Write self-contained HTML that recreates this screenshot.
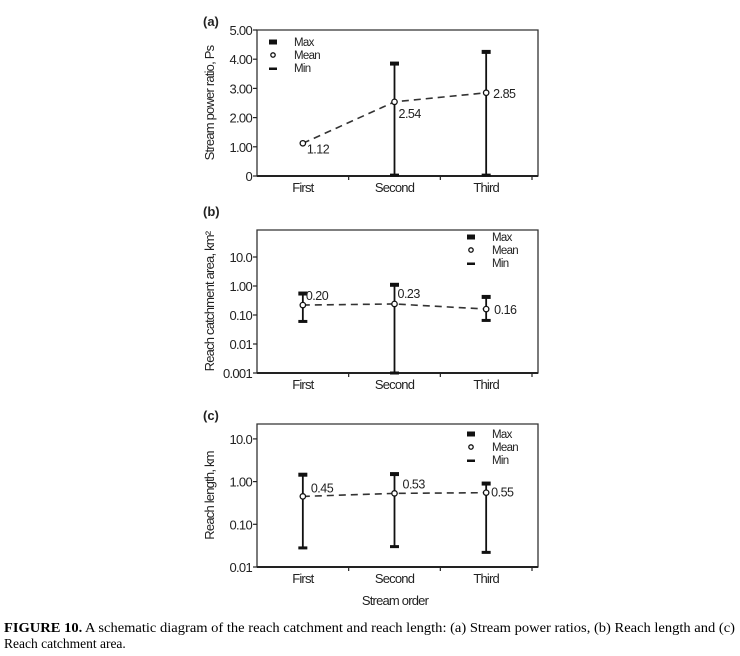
<!DOCTYPE html>
<html><head><meta charset="utf-8"><style>
body{margin:0;background:#fff;width:740px;height:656px;overflow:hidden}
svg{display:block}
text{font-family:"Liberation Sans",sans-serif;fill:#222}
</style></head><body>
<svg id="fig" width="740" height="656" viewBox="0 0 740 656" xmlns="http://www.w3.org/2000/svg"></svg>
<script>
const categories=["First","Second","Third"];
// panel a
const aMean=[1.12,2.54,2.85];
const aMax=[1.12,3.85,4.25];
const aMin=[1.12,0.03,0.03];
const aLabels=["1.12","2.54","2.85"];
const aTicks=[0,1,2,3,4,5];
const aTickLabels=["0","1.00","2.00","3.00","4.00","5.00"];
// panel b
const bMean=[0.22,0.24,0.16];
const bMax=[0.55,1.1,0.42];
const bMin=[0.06,0.001,0.065];
const bLabels=["0.20","0.23","0.16"];
const bTicks=[0.001,0.01,0.1,1,10];
const bTickLabels=["0.001","0.01","0.10","1.00","10.0"];
// panel c
const cMean=[0.45,0.53,0.55];
const cMax=[1.45,1.5,0.9];
const cMin=[0.028,0.03,0.022];
const cLabels=["0.45","0.53","0.55"];
const cTicks=[0.01,0.1,1,10];
const cTickLabels=["0.01","0.10","1.00","10.0"];

const svg=document.getElementById('fig');
const NS="http://www.w3.org/2000/svg";
function mk(tag,attrs,parent){const e=document.createElementNS(NS,tag);for(const k in attrs)e.setAttribute(k,attrs[k]);(parent||svg).appendChild(e);return e;}
function txt(s,x,y,size,anchor,parent,extra){const t=mk('text',Object.assign({x:x,y:y,'font-size':size,'text-anchor':anchor||'start'},extra||{}),parent);t.textContent=s;return t;}

const X0=257,X1=532,XR=538;
function xs(i){return X0+(X1-X0)/6*(2*i+1);}

function panel(cfg){
  const g=mk('g',{});
  
  
  const ys=cfg.log?(v=>cfg.yb-(Math.log10(v)-Math.log10(cfg.vmin))*cfg.dec):(v=>cfg.yb-(v-cfg.vmin)*cfg.unit);
  const fr=mk('path',{d:`M${X0} ${cfg.yt} H${XR} V${cfg.yb} H${X0} Z`,fill:'none',stroke:'#333','stroke-width':1.3},g);
  
  
  mk('line',{x1:X0,y1:cfg.yb,x2:XR,y2:cfg.yb,stroke:'#222','stroke-width':2},g);
  const pl=txt(cfg.tag,203,cfg.tagY,13,'start',g,{'font-weight':'bold'});
  
  
  cfg.ticks.forEach((v,i)=>{const y=ys(v);
    mk('line',{x1:X0-4,y1:y,x2:X0,y2:y,stroke:'#222','stroke-width':1.2},g);
    const t=txt(cfg.tickLabels[i],X0-5,y+5,13,'end',g,{'letter-spacing':'-0.7'});
    
    
  });
  for(let i=0;i<3;i++){const x=(X0+(X1-X0)/3*(i+1));mk('line',{x1:x,y1:cfg.yb,x2:x,y2:cfg.yb+4,stroke:'#222','stroke-width':1.2},g);
    const t=txt(categories[i],xs(i),cfg.yb+16,13,'middle',g,{'letter-spacing':'-0.8'});
    
    }
  const cy=(cfg.yt+cfg.yb)/2;
  const yt=txt(cfg.ytitle,0,0,13,'middle',g,{transform:`translate(214,${cy}) rotate(-90)`,'letter-spacing':'-0.8'});
  
  
  const pts=cfg.mean.map((v,i)=>xs(i)+','+ys(v)).join(' ');
  const ml=mk('polyline',{points:pts,fill:'none',stroke:'#333','stroke-width':1.6,'stroke-dasharray':'7,5'},g);
  
  
  for(let i=0;i<3;i++){const x=xs(i);
    if(cfg.max[i]!==cfg.min[i]){
      const eb=mk('line',{x1:x,y1:ys(cfg.max[i]),x2:x,y2:ys(cfg.min[i]),stroke:'#111','stroke-width':1.8},g);
      
      
      const mx=mk('rect',{x:x-4.5,y:ys(cfg.max[i])-2,width:9,height:4,fill:'#111'},g);
      
      
      const mn=mk('rect',{x:x-4.5,y:ys(cfg.min[i])-1.5,width:9,height:3,fill:'#111'},g);
      
      
    }
    const c=mk('circle',{cx:x,cy:ys(cfg.mean[i]),r:2.7,fill:'#fff',stroke:'#111','stroke-width':1.3},g);
    
    
    const off=cfg.lblOff[i];
    const l=txt(cfg.labels[i],x+off[0],ys(cfg.mean[i])+off[1],12.5,'start',g,{'letter-spacing':'-0.5'});
    
    
  }
  const lx=cfg.legX,ly=cfg.legY;
  const lg=mk('g',{},g);
  
  
  mk('rect',{x:lx-4,y:ly-2.5,width:8,height:5,fill:'#111'},lg);
  mk('circle',{cx:lx,cy:ly+13,r:2.2,fill:'#fff',stroke:'#111','stroke-width':1.3},lg);
  mk('rect',{x:lx-4,y:ly+25.5,width:8,height:2.5,fill:'#111'},lg);
  ["Max","Mean","Min"].forEach((s,k)=>{const t=txt(s,lx+21,ly+4+k*13,11.5,'start',lg,{'letter-spacing':'-0.7'});
    
    });
}

panel({name:'panel-a-stream-power',tag:'(a)',tagY:26,yt:30,yb:176,log:false,vmin:0,unit:29.2,
  ticks:aTicks,tickLabels:aTickLabels,mean:aMean,max:aMax,min:aMin,labels:aLabels,
  ytitle:'Stream power ratio, Ps',legX:273,legY:42,lblOff:[[4,10],[4,16],[7,5]]});
panel({name:'panel-b-catchment-area',tag:'(b)',tagY:216,yt:230,yb:373,log:true,vmin:0.001,dec:29,
  ticks:bTicks,tickLabels:bTickLabels,mean:bMean,max:bMax,min:bMin,labels:bLabels,
  ytitle:'Reach catchment area, km²',legX:471,legY:237,lblOff:[[3,-5],[3,-6],[8,5]]});
panel({name:'panel-c-reach-length',tag:'(c)',tagY:420,yt:424,yb:567,log:true,vmin:0.01,dec:42.7,
  ticks:cTicks,tickLabels:cTickLabels,mean:cMean,max:cMax,min:cMin,labels:cLabels,
  ytitle:'Reach length, km',legX:471,legY:434,lblOff:[[8,-4],[8,-5],[5,4]]});

const xt=txt('Stream order',395,605,13,'middle',svg,{'letter-spacing':'-0.8'});



const cap=mk('text',{x:4,y:632,'font-size':13.5,textLength:731,lengthAdjust:'spacingAndGlyphs',style:'font-family:"Liberation Serif",serif;fill:#000'});


const b=mk('tspan',{'font-weight':'bold'},cap);b.textContent='FIGURE 10.';
const r=mk('tspan',{},cap);r.textContent=' A schematic diagram of the reach catchment and reach length: (a) Stream power ratios, (b) Reach length and (c)';
const cap2=mk('text',{x:4,y:648,'font-size':13.5,style:'font-family:"Liberation Serif",serif;fill:#000'});


cap2.textContent='Reach catchment area.';
</script>
</body></html>
